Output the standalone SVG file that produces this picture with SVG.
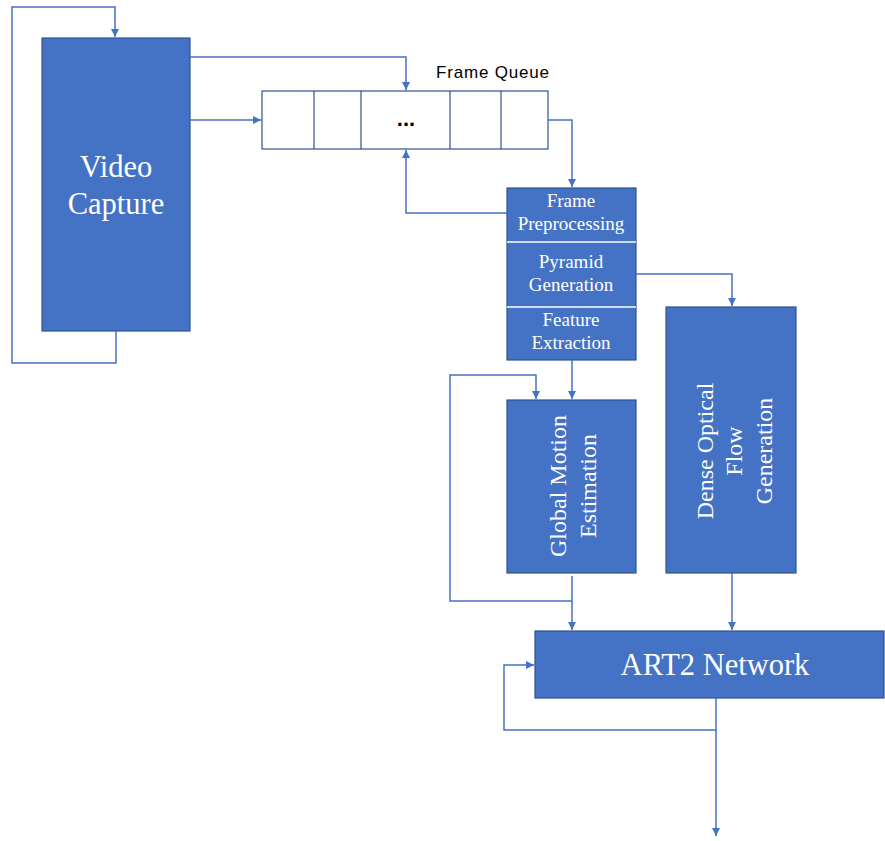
<svg xmlns="http://www.w3.org/2000/svg" width="885" height="841" viewBox="0 0 885 841">
<style>
.box{fill:#4472C4;stroke:#2F528F;stroke-width:1.2}
.cell{fill:#fff;stroke:#2F528F;stroke-width:1.2}
.div{stroke:#fff;stroke-width:1.5}
.con{fill:none;stroke:#4472C4;stroke-width:1.5}
.big{font-family:"Liberation Serif","Times New Roman",serif;font-size:30.5px;fill:#fff;text-anchor:middle}
.mid{font-family:"Liberation Serif","Times New Roman",serif;font-size:24px;fill:#fff;text-anchor:middle}
.sm{font-family:"Liberation Serif","Times New Roman",serif;font-size:19px;fill:#fff;text-anchor:middle}
.lbl{font-family:"Liberation Sans",Arial,sans-serif;font-size:17px;fill:#000}
</style>
<defs>
<marker id="arr" markerWidth="10" markerHeight="10" refX="9" refY="5" orient="auto" markerUnits="userSpaceOnUse">
<path d="M1,1 L9,5 L1,9 Z" fill="#4472C4"/>
</marker>
</defs>
<g id="video-capture">
<rect class="box" x="42" y="38" width="148" height="293"/>
<text class="big" x="116" y="177">Video</text>
<text class="big" x="116" y="214">Capture</text>
</g>
<g id="frame-queue">
<rect class="cell" x="262" y="91" width="286" height="58"/>
<line stroke="#2F528F" stroke-width="1.2" x1="314" y1="91" x2="314" y2="149"/>
<line stroke="#2F528F" stroke-width="1.2" x1="361" y1="91" x2="361" y2="149"/>
<line stroke="#2F528F" stroke-width="1.2" x1="450" y1="91" x2="450" y2="149"/>
<line stroke="#2F528F" stroke-width="1.2" x1="501" y1="91" x2="501" y2="149"/>
<text x="406" y="126" font-family="Liberation Sans,Arial,sans-serif" font-size="22" font-weight="bold" text-anchor="middle">...</text>
<text class="lbl" x="436" y="78" textLength="113">Frame Queue</text>
</g>
<g id="preprocessing-stack">
<rect class="box" x="507" y="188" width="129" height="172"/>
<line class="div" x1="507" y1="242" x2="636" y2="242"/>
<line class="div" x1="507" y1="307" x2="636" y2="307"/>
<text class="sm" x="571" y="207">Frame</text>
<text class="sm" x="571" y="230">Preprocessing</text>
<text class="sm" x="571" y="268">Pyramid</text>
<text class="sm" x="571" y="291">Generation</text>
<text class="sm" x="571" y="326">Feature</text>
<text class="sm" x="571" y="349">Extraction</text>
</g>
<g id="global-motion">
<rect class="box" x="507" y="400" width="129" height="173"/>
<text class="mid" transform="translate(566,486) rotate(-90)">Global Motion</text>
<text class="mid" transform="translate(596,486) rotate(-90)">Estimation</text>
</g>
<g id="dense-optical-flow">
<rect class="box" x="666" y="307" width="130" height="266"/>
<text class="mid" transform="translate(713,451) rotate(-90)">Dense Optical</text>
<text class="mid" transform="translate(742,451) rotate(-90)">Flow</text>
<text class="mid" transform="translate(772,451) rotate(-90)">Generation</text>
</g>
<g id="art2-network">
<rect class="box" x="535" y="631" width="349" height="67"/>
<text class="big" x="715" y="675">ART2 Network</text>
</g>
<g id="connectors">
<path class="con" d="M116,331 V363 H12 V7 H115 V37" marker-end="url(#arr)"/>
<path class="con" d="M190,57 H406 V90" marker-end="url(#arr)"/>
<path class="con" d="M190,120 H261" marker-end="url(#arr)"/>
<path class="con" d="M548,120 H572 V187" marker-end="url(#arr)"/>
<path class="con" d="M507,213 H406 V150" marker-end="url(#arr)"/>
<path class="con" d="M636,274 H732 V306" marker-end="url(#arr)"/>
<path class="con" d="M572,360 V399" marker-end="url(#arr)"/>
<path class="con" d="M572,576 V601 H450 V375 H536 V399" marker-end="url(#arr)"/>
<path class="con" d="M572,601 V630" marker-end="url(#arr)"/>
<path class="con" d="M732,573 V630" marker-end="url(#arr)"/>
<path class="con" d="M716,698 V730 H504 V665 H534" marker-end="url(#arr)"/>
<path class="con" d="M716,730 V836" marker-end="url(#arr)"/>
</g>
</svg>
